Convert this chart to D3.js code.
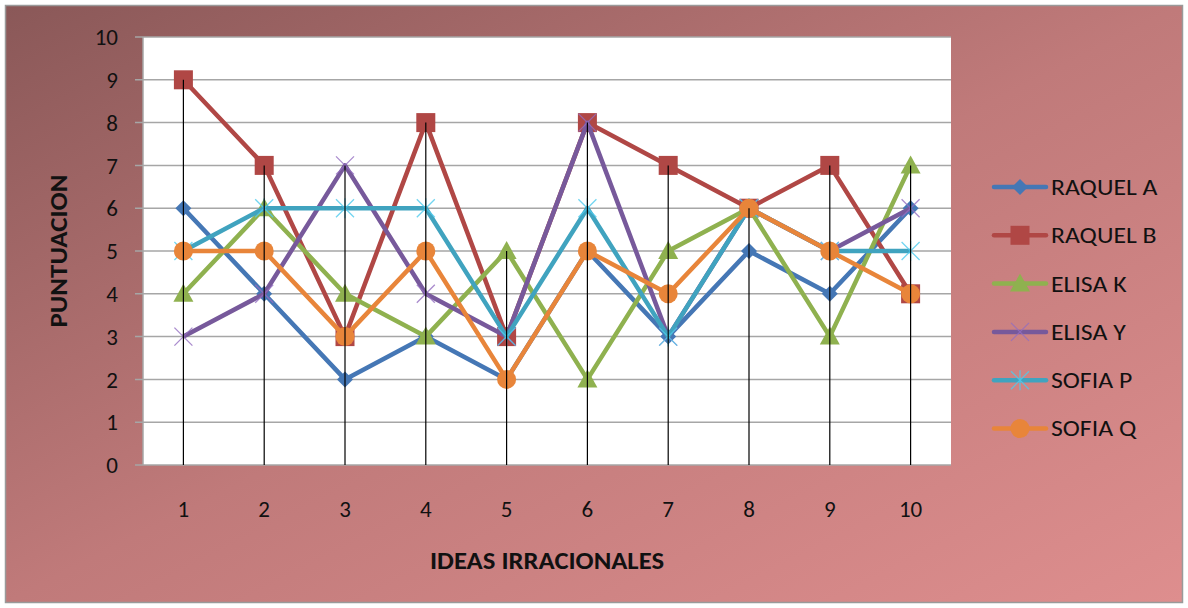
<!DOCTYPE html>
<html><head><meta charset="utf-8">
<script src="https://cdn.jsdelivr.net/npm/d3@7"></script>
<style>html,body{margin:0;padding:0;background:#fff}svg{display:block}</style>
</head><body><svg id="c" width="1188" height="608"></svg>
<script>
const categories = ["1","2","3","4","5","6","7","8","9","10"];
const seriesNames = ["RAQUEL A","RAQUEL B","ELISA K","ELISA Y","SOFIA P","SOFIA Q"];
const raquelA = [6,4,2,3,2,5,3,5,4,6];
const raquelB = [9,7,3,8,3,8,7,6,7,4];
const elisaK  = [4,6,4,3,5,2,5,6,3,7];
const elisaY  = [3,4,7,4,3,8,3,6,5,6];
const sofiaP  = [5,6,6,6,3,6,3,6,5,5];
const sofiaQ  = [5,5,3,5,2,5,4,6,5,4];
const yTicks = [0,1,2,3,4,5,6,7,8,9,10];
const colors = ["#4577b5","#b04745","#8fb14f","#77599b","#40a3bf","#e8853a"];
const markers = ["diamond","square","triangle","x","star","circle"];
const allValues = [raquelA, raquelB, elisaK, elisaY, sofiaP, sofiaQ];

const svg = d3.select("#c");
const defs = svg.append("defs");
const g = defs.append("linearGradient").attr("id","bg").attr("x1","0").attr("y1","0").attr("x2","1").attr("y2","1");
g.append("stop").attr("offset","0").attr("stop-color","#8a5858");
g.append("stop").attr("offset","0.5").attr("stop-color","#c07a7a");
g.append("stop").attr("offset","1").attr("stop-color","#de8e8e");
svg.append("rect").attr("x",5.5).attr("y",5.5).attr("width",1177).attr("height",597)
  .attr("fill","url(#bg)").attr("stroke","#9a9a9a").attr("stroke-width",1.5);

const L=143, R=951, T=37, B=465;
const x = d3.scaleBand().domain(categories).range([L,R]);
const y = d3.scaleLinear().domain([0,10]).range([B,T]);
const font = "Carlito, Lato, 'Open Sans', sans-serif";

svg.append("rect").attr("x",L).attr("y",T).attr("width",R-L).attr("height",B-T).attr("fill","#fff");

// gridlines
svg.append("g").selectAll("line").data(yTicks).join("line")
  .attr("x1",L-8).attr("x2",R).attr("y1",d=>y(d)).attr("y2",d=>y(d))
  .attr("stroke","#a6a6a6").attr("stroke-width",1.5);
svg.append("line").attr("x1",L).attr("x2",L).attr("y1",T).attr("y2",B).attr("stroke","#a6a6a6").attr("stroke-width",1.5);

// y tick labels
svg.append("g").selectAll("text").data(yTicks).join("text")
  .attr("x",118).attr("y",d=>y(d)).attr("dy","0.36em").attr("text-anchor","end")
  .attr("font-family",font).attr("font-size",23).attr("fill","#111").text(d=>d);
// x tick labels
svg.append("g").selectAll("text").data(categories).join("text")
  .attr("x",d=>x(d)+x.bandwidth()/2).attr("y",517).attr("text-anchor","middle")
  .attr("font-family",font).attr("font-size",23).attr("fill","#111").text(d=>d);

svg.append("text").attr("x",547).attr("y",569).attr("text-anchor","middle")
  .attr("font-family",font).attr("font-size",24).attr("font-weight","bold").attr("fill","#111")
  .attr("textLength",234).attr("lengthAdjust","spacingAndGlyphs").text("IDEAS IRRACIONALES");
svg.append("text").attr("transform","translate(67,251) rotate(-90)").attr("text-anchor","middle")
  .attr("font-family",font).attr("font-size",24).attr("font-weight","bold").attr("fill","#111")
  .attr("textLength",153).attr("lengthAdjust","spacingAndGlyphs").text("PUNTUACION");

const cx = i => x(categories[i]) + x.bandwidth()/2;

function drawMarker(sel, type, color, px, py){
  if(type==="diamond"){
    sel.append("path").attr("d",`M${px},${py-8}L${px+8},${py}L${px},${py+8}L${px-8},${py}Z`).attr("fill",color);
  } else if(type==="square"){
    sel.append("rect").attr("x",px-9.5).attr("y",py-9.5).attr("width",19).attr("height",19).attr("fill",color);
  } else if(type==="triangle"){
    sel.append("path").attr("d",`M${px},${py-10}L${px+10},${py+8}L${px-10},${py+8}Z`).attr("fill",color);
  } else if(type==="circle"){
    sel.append("circle").attr("cx",px).attr("cy",py).attr("r",9.5).attr("fill",color);
  } else if(type==="x"){
    sel.append("path").attr("d",`M${px-9},${py-9}L${px+9},${py+9}M${px-9},${py+9}L${px+9},${py-9}`)
      .attr("stroke",color).attr("stroke-width",1.3).attr("fill","none").attr("opacity",0.8);
  } else if(type==="star"){
    sel.append("path").attr("d",`M${px-9},${py-9}L${px+9},${py+9}M${px-9},${py+9}L${px+9},${py-9}M${px},${py-10}L${px},${py+10}`)
      .attr("stroke",color).attr("stroke-width",1.3).attr("fill","none").attr("opacity",0.8);
  }
}
const mColor = s => (markers[s]==="x"||markers[s]==="star") ? d3.color(colors[s]).brighter(0.6) : colors[s];

const line = d3.line().x((d,i)=>cx(i)).y(d=>y(d));
allValues.forEach((vals,s)=>{
  const gs = svg.append("g");
  gs.append("path").datum(vals).attr("d",line).attr("fill","none")
    .attr("stroke",colors[s]).attr("stroke-width",4.5).attr("stroke-linejoin","round");
  vals.forEach((v,i)=>drawMarker(gs, markers[s], mColor(s), cx(i), y(v)));
});

// drop lines
svg.append("g").selectAll("line").data(categories).join("line")
  .attr("x1",(d,i)=>cx(i)).attr("x2",(d,i)=>cx(i))
  .attr("y1",(d,i)=>y(d3.max(allValues, a=>a[i]))).attr("y2",B)
  .attr("stroke","#000").attr("stroke-width",1.2);

// legend
const lg = svg.append("g");
seriesNames.forEach((name,s)=>{
  const ly = 187 + s*48.3;
  lg.append("line").attr("x1",994).attr("x2",1046).attr("y1",ly).attr("y2",ly)
    .attr("stroke",colors[s]).attr("stroke-width",4.5).attr("stroke-linecap","round");
  drawMarker(lg, markers[s], mColor(s), 1020, ly);
  const t = lg.append("text").attr("x",1051).attr("y",ly).attr("dy","0.36em")
    .attr("font-family",font).attr("font-size",22).attr("fill","#111").text(name);
  const w = t.node().getComputedTextLength();
  t.attr("textLength", w*1.17).attr("lengthAdjust","spacingAndGlyphs");
});
</script></body></html>
